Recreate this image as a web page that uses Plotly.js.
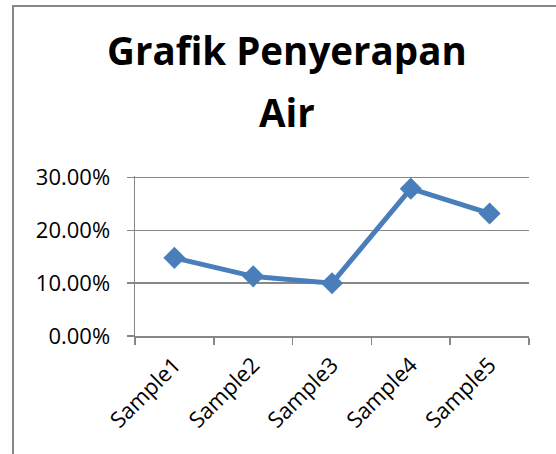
<!DOCTYPE html>
<html>
<head>
<meta charset="utf-8">
<script src="https://cdn.plot.ly/plotly-3.0.1.min.js"></script>
<style>
html,body{margin:0;padding:0;background:#fff;}
#wrap{position:relative;width:556px;height:454px;overflow:hidden;}
#frame{position:absolute;left:12px;top:5px;width:600px;height:500px;border-left:2px solid #878787;border-top:2px solid #878787;pointer-events:none;}
#chart{position:absolute;left:0;top:0;width:556px;height:454px;}
</style>
</head>
<body>
<div id="wrap"><div id="chart"></div><div id="frame"></div></div>
<script>
const categories = ["Sample1", "Sample2", "Sample3", "Sample4", "Sample5"];
const values = [0.148, 0.113, 0.100, 0.279, 0.232];
const yTicks = [0, 0.1, 0.2, 0.3];
const yTickLabels = ["0.00%", "10.00%", "20.00%", "30.00%"];
const titleLine1 = "Grafik Penyerapan";
const titleLine2 = "Air";

const font = "'Open Sans', Lato, sans-serif";
const trace = {
  x: categories, y: values, type: "scatter", mode: "lines+markers",
  line: {color: "#4a7ebb", width: 5},
  marker: {symbol: "diamond", size: 17, color: "#4a7ebb"},
  hoverinfo: "skip"
};
const layout = {
  width: 556, height: 454,
  margin: {l: 135, r: 27, t: 176, b: 118, pad: 0},
  paper_bgcolor: "#fff", plot_bgcolor: "#fff",
  showlegend: false,
  font: {family: font, color: "#000", size: 22},
  title: {text: titleLine1, font: {family: font, size: 38.5, weight: "bold", color: "#000"},
    xref: "container", x: 0.516, xanchor: "center", yref: "container", y: 0.886, yanchor: "middle"},
  annotations: [{text: titleLine2, xref: "paper", yref: "paper", x: (287-135)/394, y: 1 + (176-112.5)/160, xanchor: "center", yanchor: "middle", showarrow: false,
    font: {family: font, size: 38.5, weight: "bold", color: "#000"}}],
  xaxis: {
    type: "category", categoryorder: "array", categoryarray: categories,
    range: [-0.5, 4.5], tickson: "boundaries", ticks: "outside", ticklen: 7, tickwidth: 1.5, tickcolor: "#878787",
    showline: true, linecolor: "#878787", linewidth: 1.5, showgrid: false, zeroline: false, ticklabelstandoff: 6,
    tickangle: -45, tickfont: {family: font, size: 22, color: "#000"}, fixedrange: true
  },
  yaxis: {
    range: [0, 0.303], tickvals: yTicks, ticktext: yTickLabels,
    ticks: "outside", ticklen: 7, tickwidth: 1.5, tickcolor: "#878787",
    showline: true, linecolor: "#878787", linewidth: 1.5, ticklabelstandoff: 12,
    showgrid: true, gridcolor: "#878787", gridwidth: 1.5, zeroline: false,
    tickfont: {family: font, size: 22, color: "#000"}, fixedrange: true
  }
};
Plotly.newPlot("chart", [trace], layout, {staticPlot: true, displayModeBar: false});
</script>
</body>
</html>
